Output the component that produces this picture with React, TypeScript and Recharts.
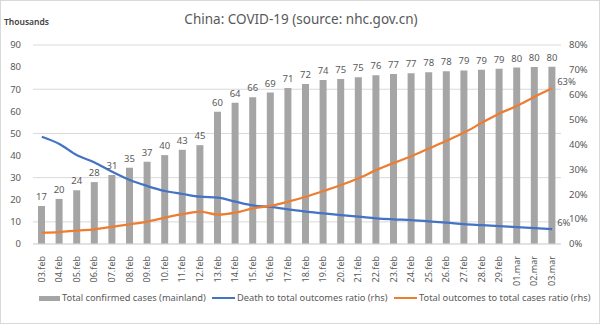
import { ComposedChart, Bar, Line, XAxis, YAxis, CartesianGrid, LabelList } from 'recharts'

const dates = [
  '03.feb', '04.feb', '05.feb', '06.feb', '07.feb', '08.feb', '09.feb', '10.feb', '11.feb', '12.feb',
  '13.feb', '14.feb', '15.feb', '16.feb', '17.feb', '18.feb', '19.feb', '20.feb', '21.feb', '22.feb',
  '23.feb', '24.feb', '25.feb', '26.feb', '27.feb', '28.feb', '29.feb', '01.mar', '02.mar', '03.mar',
]

// thousands
const confirmed = [
  17.2, 20.4, 24.3, 28.0, 31.2, 34.5, 37.2, 40.2, 42.6, 44.7,
  59.8, 63.9, 66.4, 68.5, 70.5, 72.4, 74.2, 74.6, 75.4, 76.3,
  76.9, 77.2, 77.7, 78.1, 78.5, 78.8, 79.3, 79.8, 80.0, 80.2,
]

// percent
const deathRatio = [
  43.1, 40.2, 35.7, 32.8, 29.0, 25.7, 23.3, 21.3, 20.1, 19.0,
  18.6, 17.0, 15.5, 14.9, 13.9, 13.0, 12.3, 11.6, 11.0, 10.3,
  9.9, 9.6, 9.1, 8.6, 8.0, 7.6, 7.2, 6.8, 6.4, 6.0,
]

const outcomeRatio = [
  4.6, 4.8, 5.4, 5.9, 6.9, 7.9, 9.0, 10.6, 12.0, 13.0,
  11.8, 12.6, 14.3, 15.3, 17.0, 19.0, 21.3, 23.7, 26.4, 29.7,
  32.6, 35.3, 38.4, 41.5, 44.8, 48.7, 52.5, 55.5, 59.2, 62.6,
]

const leftTicks = [0, 10, 20, 30, 40, 50, 60, 70, 80, 90]
const rightTicks = [0, 10, 20, 30, 40, 50, 60, 70, 80]

const data = dates.map((d, i) => ({
  date: d,
  confirmed: confirmed[i],
  death: deathRatio[i],
  outcome: outcomeRatio[i],
}))

const FONT = '"Noto Sans", "Liberation Sans", sans-serif'
const GREY_TEXT = '#595959'
const lastIdx = dates.length - 1

function DateTick({ x, y, payload }: any) {
  return (
    <text
      x={0}
      y={0}
      transform={`translate(${x},${y + 4}) rotate(-90)`}
      textAnchor="end"
      dy="0.32em"
      fontSize={9}
      fontFamily={FONT}
      fill={GREY_TEXT}
    >
      {payload.value}
    </text>
  )
}

function EndLabel({ x, y, index, value }: any) {
  if (index !== lastIdx) return null
  return (
    <text x={x + 5} y={y - 3} fontSize={9.5} fontFamily={FONT} fill={GREY_TEXT}>
      {`${Math.round(value)}%`}
    </text>
  )
}

function LegendRow() {
  const item = (swatch: any, label: string, left: number) => (
    <div style={{ position: 'absolute', left, top: 0, display: 'flex', alignItems: 'center', whiteSpace: 'nowrap' }}>
      {swatch}
      <span style={{ marginLeft: 2 }}>{label}</span>
    </div>
  )
  return (
    <div style={{ position: 'absolute', left: 0, top: 290, width: 600, height: 14, fontFamily: FONT, fontSize: 9.3, color: GREY_TEXT, lineHeight: '14px' }}>
      {item(<div style={{ width: 21, height: 5, background: '#a5a5a5' }} />, 'Total confirmed cases (mainland)', 38)}
      {item(<div style={{ width: 23, height: 2.5, background: '#4472c4' }} />, 'Death to total outcomes ratio (rhs)', 211)}
      {item(<div style={{ width: 23, height: 2.5, background: '#ed7d31' }} />, 'Total outcomes to total cases ratio (rhs)', 393)}
    </div>
  )
}

export default function App() {
  return (
    <div style={{ position: 'absolute', left: 0, top: 0, width: 600, height: 324, background: '#fff', boxSizing: 'border-box', border: '1px solid #d9d9d9', overflow: 'hidden' }}>
      <div style={{ position: 'absolute', left: 0, top: 9, width: 600, textAlign: 'center', fontFamily: FONT, fontSize: 13.5, color: GREY_TEXT }}>
        China: COVID-19 (source: nhc.gov.cn)
      </div>
      <div style={{ position: 'absolute', left: 3, top: 15, fontFamily: FONT, fontSize: 8.5, fontWeight: 600, color: '#404040' }}>
        Thousands
      </div>
      <div style={{ position: 'absolute', left: -1, top: -1 }}>
        <ComposedChart width={600} height={324} data={data} margin={{ top: 45, right: 0, bottom: 40, left: 0 }} barCategoryGap={0}>
          <CartesianGrid vertical={false} stroke="#d9d9d9" yAxisId="left" />
          <XAxis
            dataKey="date"
            interval={0}
            tick={<DateTick />}
            tickLine={false}
            axisLine={{ stroke: '#d9d9d9' }}
            height={40}
          />
          <YAxis
            yAxisId="left"
            domain={[0, 90]}
            ticks={leftTicks}
            width={33}
            axisLine={false}
            tickLine={false}
            tickMargin={6}
            tick={{ fontSize: 9.5, fontFamily: FONT, fill: GREY_TEXT }}
          />
          <YAxis
            yAxisId="right"
            orientation="right"
            domain={[0, 80]}
            ticks={rightTicks}
            width={39}
            axisLine={false}
            tickLine={false}
            tickFormatter={(v: number) => `${v}%`}
            tick={{ fontSize: 9.5, fontFamily: FONT, fill: GREY_TEXT }}
          />
          <Bar yAxisId="left" dataKey="confirmed" fill="#a5a5a5" barSize={7} isAnimationActive={false}>
            <LabelList
              dataKey="confirmed"
              position="top"
              offset={6}
              formatter={(v: number) => Math.round(v)}
              style={{ fontSize: 9.5, fontFamily: FONT, fill: GREY_TEXT }}
            />
          </Bar>
          <Line yAxisId="right" type="monotone" dataKey="death" stroke="#4472c4" strokeWidth={2.25} dot={false} isAnimationActive={false}>
            <LabelList dataKey="death" content={<EndLabel />} />
          </Line>
          <Line yAxisId="right" type="monotone" dataKey="outcome" stroke="#ed7d31" strokeWidth={2.25} dot={false} isAnimationActive={false}>
            <LabelList dataKey="outcome" content={<EndLabel />} />
          </Line>
        </ComposedChart>
      </div>
      <LegendRow />
    </div>
  )
}
